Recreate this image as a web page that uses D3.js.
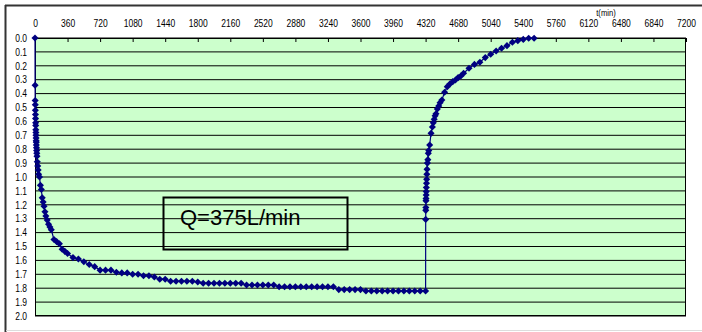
<!DOCTYPE html>
<html>
<head>
<meta charset="utf-8">
<script src="https://cdn.jsdelivr.net/npm/d3@7"></script>
<style>
  html, body { margin: 0; padding: 0; background: #fff; }
  svg { display: block; }
  text { font-family: "Liberation Sans", Arial, sans-serif; }
</style>
</head>
<body>
<svg id="chart" width="702" height="332"></svg>
<script>
// Elapsed time since pumping start (min) and measured drawdown (m):
// pumping phase up to 4320 min, then recovery after the pump stops.
const timeMin = [
  0, 1, 2, 3, 4, 5, 6, 7, 8, 9, 10, 11, 12, 13, 14, 15, 16, 18, 20, 22, 25, 30, 35, 40, 50,
  60, 70, 80, 90, 100, 110, 120, 135, 150, 165, 180, 210, 240, 270, 300, 330, 360,
  420, 480, 540, 600, 660, 720, 780, 840, 900, 960, 1020, 1080, 1140, 1200, 1260, 1320,
  1380, 1440, 1500, 1560, 1620, 1680, 1740, 1800, 1860, 1920, 1980, 2040, 2100, 2160,
  2220, 2280, 2340, 2400, 2460, 2520, 2580, 2640, 2700, 2760, 2820, 2880, 2940, 3000,
  3060, 3120, 3180, 3240, 3300, 3360, 3420, 3480, 3540, 3600, 3660, 3720, 3780, 3840,
  3900, 3960, 4020, 4080, 4140, 4200, 4260, 4320,
  4321, 4322, 4323, 4324, 4325, 4326, 4327, 4328, 4330, 4332, 4334, 4336, 4340, 4345,
  4350, 4355, 4365, 4380, 4395, 4405, 4415, 4425, 4435, 4450, 4465, 4480, 4500, 4530,
  4560, 4590, 4620, 4650, 4680, 4710, 4740, 4800, 4860, 4920, 4980, 5040, 5100, 5160,
  5220, 5280, 5340, 5400, 5460, 5520
];
const drawdownM = [
  0.00, 0.34, 0.45, 0.48, 0.52, 0.55, 0.58, 0.61, 0.63, 0.66, 0.68, 0.70, 0.72, 0.74, 0.75, 0.77, 0.79, 0.81, 0.83, 0.85, 0.89, 0.92, 0.95, 0.98, 1.00,
  1.06, 1.09, 1.15, 1.18, 1.21, 1.25, 1.28, 1.31, 1.34, 1.36, 1.38, 1.45, 1.465, 1.48, 1.52, 1.535, 1.55,
  1.58, 1.59, 1.61, 1.63, 1.645, 1.67, 1.67, 1.67, 1.685, 1.69, 1.69, 1.70, 1.70, 1.71, 1.71, 1.72,
  1.735, 1.735, 1.75, 1.75, 1.75, 1.75, 1.75, 1.755, 1.765, 1.765, 1.765, 1.765, 1.765, 1.765,
  1.765, 1.765, 1.777, 1.777, 1.777, 1.777, 1.777, 1.777, 1.79, 1.79, 1.79, 1.79, 1.79, 1.79,
  1.79, 1.79, 1.79, 1.79, 1.79, 1.81, 1.81, 1.81, 1.81, 1.81, 1.82, 1.82, 1.82, 1.82,
  1.82, 1.82, 1.82, 1.82, 1.82, 1.82, 1.82, 1.82,
  1.305, 1.24, 1.22, 1.17, 1.155, 1.13, 1.105, 1.075, 1.045, 1.017, 0.98, 0.945, 0.90, 0.875,
  0.83, 0.81, 0.77, 0.686, 0.64, 0.61, 0.585, 0.56, 0.545, 0.51, 0.49, 0.465, 0.446, 0.39,
  0.35, 0.33, 0.314, 0.302, 0.285, 0.273, 0.254, 0.218, 0.19, 0.175, 0.141, 0.117, 0.094, 0.074,
  0.055, 0.031, 0.019, 0.01, 0.002, 0.002
];
const xTickValues = [0, 360, 720, 1080, 1440, 1800, 2160, 2520, 2880, 3240, 3600, 3960,
  4320, 4680, 5040, 5400, 5760, 6120, 6480, 6840, 7200];
const yTickValues = [0.0, 0.1, 0.2, 0.3, 0.4, 0.5, 0.6, 0.7, 0.8, 0.9, 1.0, 1.1, 1.2,
  1.3, 1.4, 1.5, 1.6, 1.7, 1.8, 1.9, 2.0];
const axisTitle = "t(min)";
const noteText = "Q=375L/min";

const points = timeMin.map((t, i) => ({ t, s: drawdownM[i] }));

const svg = d3.select("#chart");
const plot = { left: 35, right: 686, top: 38, bottom: 316 };

const x = d3.scaleLinear().domain([0, 7200]).range([plot.left, plot.right]);
const y = d3.scaleLinear().domain([0, 2]).range([plot.top, plot.bottom]);

// Outer frame of the chart object
svg.append("line").attr("x1", 5).attr("x2", 702).attr("y1", 5.5).attr("y2", 5.5)
  .attr("stroke", "#333").attr("stroke-width", 2);
svg.append("line").attr("x1", 5.5).attr("x2", 5.5).attr("y1", 5).attr("y2", 332)
  .attr("stroke", "#333").attr("stroke-width", 2);
svg.append("line").attr("x1", 6).attr("x2", 702).attr("y1", 330.5).attr("y2", 330.5)
  .attr("stroke", "#ddd").attr("stroke-width", 1);

// Plot area background
svg.append("rect")
  .attr("x", plot.left).attr("y", plot.top)
  .attr("width", plot.right - plot.left).attr("height", plot.bottom - plot.top)
  .attr("fill", "#ccffcc");

// Horizontal gridlines
svg.append("g").selectAll("line")
  .data(yTickValues)
  .join("line")
  .attr("x1", plot.left).attr("x2", plot.right)
  .attr("y1", d => y(d)).attr("y2", d => y(d))
  .attr("stroke", "#000").attr("stroke-width", 1);

// Top time axis with ticks pointing into the plot
const xAxis = svg.append("g")
  .attr("transform", `translate(0,${plot.top})`)
  .call(d3.axisTop(x).tickValues(xTickValues).tickFormat(d3.format("d"))
    .tickSizeInner(-4).tickSizeOuter(0).tickPadding(11));
xAxis.select(".domain").remove();
xAxis.selectAll(".tick line").attr("stroke", "#000");
xAxis.selectAll(".tick text")
  .attr("font-size", 10).attr("fill", "#000")
  .attr("font-family", "'Liberation Sans', Arial, sans-serif")
  .attr("transform", "scale(0.85,1)");

// Left drawdown axis
const yAxis = svg.append("g")
  .attr("transform", `translate(${plot.left},0)`)
  .call(d3.axisLeft(y).tickValues(yTickValues).tickFormat(d3.format(".1f")).tickSize(0).tickPadding(8));
yAxis.select(".domain").remove();
yAxis.selectAll(".tick text")
  .attr("font-size", 10).attr("fill", "#000")
  .attr("font-family", "'Liberation Sans', Arial, sans-serif")
  .attr("x", 0)
  .attr("transform", "translate(-8,0) scale(0.85,1)");

// Axis title
svg.append("text")
  .attr("transform", "translate(606,16) scale(0.85,1)")
  .attr("text-anchor", "middle")
  .attr("font-size", 9)
  .text(axisTitle);

// Plot border
svg.append("rect")
  .attr("x", plot.left + 0.5).attr("y", plot.top + 0.5)
  .attr("width", plot.right - plot.left - 1).attr("height", plot.bottom - plot.top - 1)
  .attr("fill", "none").attr("stroke", "#000").attr("stroke-width", 1);

// Annotation box
svg.append("rect")
  .attr("x", 163.5).attr("y", 197.5).attr("width", 184).attr("height", 52)
  .attr("fill", "none").attr("stroke", "#000").attr("stroke-width", 2);
svg.append("text")
  .attr("x", 180).attr("y", 225)
  .attr("font-size", 22).attr("fill", "#000")
  .text(noteText);

// Drawdown / recovery curve
const line = d3.line().x(d => x(d.t)).y(d => y(d.s));
svg.append("path")
  .datum(points)
  .attr("d", line)
  .attr("fill", "none")
  .attr("stroke", "#000080")
  .attr("stroke-width", 1.2);

const marker = d3.symbol().type(d3.symbolSquare).size(25);
svg.append("g").selectAll("path")
  .data(points)
  .join("path")
  .attr("d", marker)
  .attr("transform", d => `translate(${x(d.t)},${y(d.s)}) rotate(45)`)
  .attr("fill", "#000080");
</script>
</body>
</html>
